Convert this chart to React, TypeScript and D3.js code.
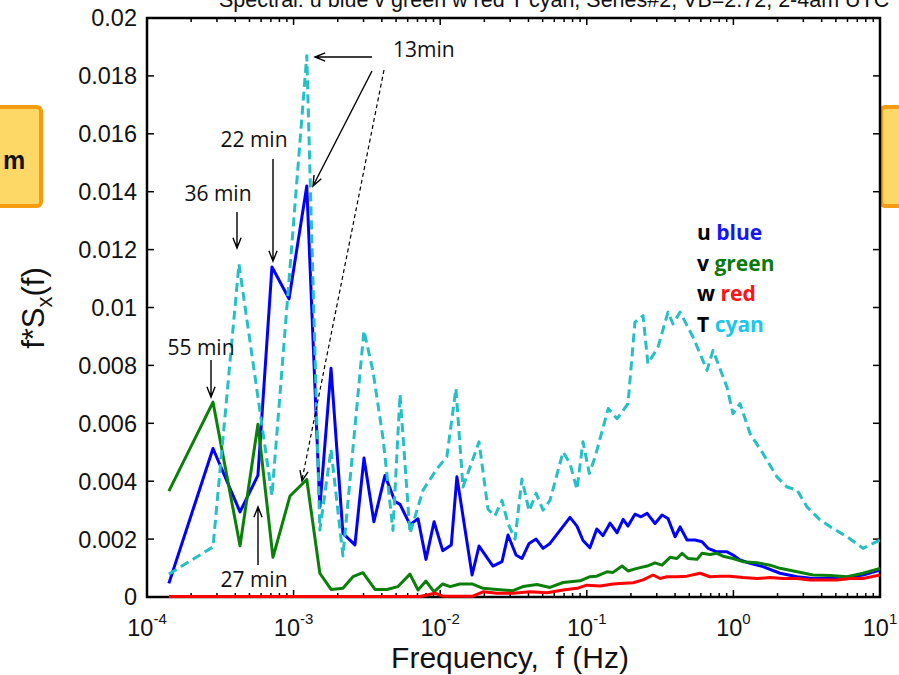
import React from 'react';
import * as d3 from 'd3';

const W = 899;
const H = 675;

// ---------- data ----------
const freqU = [1.41e-4, 2.82e-4, 4.31e-4, 5.71e-4, 7.12e-4, 9.31e-4, 1.23e-3, 1.51e-3, 1.80e-3, 2.17e-3, 2.62e-3, 3.02e-3, 3.53e-3, 4.20e-3, 4.92e-3, 5.32e-3, 6.22e-3, 7.06e-3, 8.00e-3, 9.08e-3, 1.04e-2, 1.19e-2, 1.30e-2, 1.65e-2, 1.84e-2, 2.29e-2, 2.64e-2, 2.90e-2, 3.29e-2, 3.61e-2, 4.04e-2, 4.51e-2, 5.03e-2, 5.61e-2, 7.68e-2, 8.57e-2, 9.42e-2, 0.105, 0.117, 0.129, 0.144, 0.161, 0.177, 0.191, 0.213, 0.234, 0.258, 0.292, 0.326, 0.358, 0.400, 0.433, 0.483, 0.547, 0.611, 0.671, 0.773, 0.904, 0.993, 1.11, 1.30, 1.59, 2.08, 2.72, 3.49, 4.56, 5.96, 7.66, 10];
const valU = [0.00047, 0.00513, 0.00294, 0.0042, 0.0114, 0.0103, 0.0142, 0.0031, 0.0079, 0.0022, 0.0018, 0.0048, 0.0026, 0.0042, 0.0033, 0.0032, 0.0025, 0.0027, 0.0013, 0.0026, 0.0016, 0.0018, 0.00415, 0.00076, 0.00176, 0.00107, 0.00122, 0.00214, 0.00145, 0.00133, 0.00185, 0.0020, 0.00168, 0.00185, 0.00275, 0.00245, 0.00195, 0.0017, 0.00235, 0.00212, 0.00255, 0.00222, 0.00268, 0.00245, 0.00286, 0.00277, 0.00289, 0.00254, 0.00283, 0.00271, 0.00208, 0.00242, 0.00197, 0.00197, 0.00191, 0.00168, 0.00156, 0.00156, 0.00145, 0.00128, 0.00116, 0.00105, 0.00082, 0.0007, 0.00064, 0.00064, 0.00068, 0.00076, 0.00093];

const freqV = [1.41e-4, 2.82e-4, 4.31e-4, 5.71e-4, 7.23e-4, 9.45e-4, 1.23e-3, 1.51e-3, 1.80e-3, 2.17e-3, 2.54e-3, 2.97e-3, 3.59e-3, 4.34e-3, 5.15e-3, 6.22e-3, 7.06e-3, 8.00e-3, 9.08e-3, 1.04e-2, 1.17e-2, 1.36e-2, 1.65e-2, 1.96e-2, 2.44e-2, 3.14e-2, 3.67e-2, 4.57e-2, 5.61e-2, 6.89e-2, 9.00e-2, 0.105, 0.117, 0.137, 0.151, 0.174, 0.191, 0.220, 0.258, 0.292, 0.326, 0.370, 0.412, 0.447, 0.490, 0.565, 0.611, 0.692, 0.773, 0.849, 0.993, 1.16, 1.45, 1.78, 2.08, 2.72, 3.49, 4.56, 5.96, 7.66, 10];
const valV = [0.00366, 0.00673, 0.00177, 0.00597, 0.00137, 0.00349, 0.00406, 0.00082, 0.00026, 0.0003, 0.0007, 0.00084, 0.00026, 0.00026, 0.00036, 0.00079, 0.00024, 0.00055, 0.00018, 0.00045, 0.00036, 0.00045, 0.00045, 0.0003, 0.00026, 0.00022, 0.00036, 0.00043, 0.00033, 0.0005, 0.00056, 0.0007, 0.00072, 0.00087, 0.00085, 0.00107, 0.0009, 0.00099, 0.00107, 0.00118, 0.0011, 0.00137, 0.00133, 0.00151, 0.00133, 0.0013, 0.00151, 0.00147, 0.00151, 0.00141, 0.00133, 0.00122, 0.00118, 0.0011, 0.00099, 0.00087, 0.00076, 0.00074, 0.0007, 0.00082, 0.00099];

const freqW = [1.41e-4, 1.11e-3, 7.28e-3, 9.22e-3, 1.04e-2, 1.67e-2, 1.96e-2, 2.44e-2, 3.14e-2, 4.10e-2, 5.36e-2, 6.89e-2, 8.57e-2, 0.100, 0.123, 0.151, 0.168, 0.207, 0.242, 0.283, 0.316, 0.352, 0.412, 0.483, 0.592, 0.692, 0.811, 0.948, 1.16, 1.45, 1.78, 2.18, 2.72, 3.33, 4.08, 5.09, 6.24, 7.66, 10];
const valW = [0.00002, 0.00002, 0.00002, 0.00013, 0.00003, 0.00003, 0.00018, 0.00013, 0.00013, 0.00018, 0.00015, 0.00024, 0.0003, 0.00041, 0.00038, 0.00045, 0.00047, 0.00049, 0.00059, 0.00076, 0.00064, 0.0007, 0.0007, 0.00072, 0.00082, 0.0007, 0.00072, 0.00072, 0.00067, 0.00064, 0.00067, 0.00064, 0.00064, 0.00059, 0.00059, 0.00059, 0.00064, 0.00064, 0.00076];

const freqT = [1.41e-4, 2.82e-4, 4.24e-4, 7.12e-4, 1.23e-3, 1.51e-3, 1.80e-3, 2.17e-3, 3.02e-3, 3.48e-3, 4.07e-3, 4.76e-3, 5.32e-3, 6.22e-3, 7.64e-3, 9.51e-3, 1.11e-2, 1.28e-2, 1.43e-2, 1.84e-2, 2.12e-2, 2.36e-2, 2.64e-2, 2.90e-2, 3.24e-2, 3.61e-2, 4.04e-2, 4.51e-2, 5.03e-2, 5.61e-2, 6.89e-2, 7.68e-2, 8.57e-2, 9.42e-2, 0.104, 0.114, 0.140, 0.161, 0.191, 0.213, 0.242, 0.261, 0.306, 0.358, 0.387, 0.433, 0.530, 0.661, 0.726, 0.904, 0.993, 1.11, 1.30, 1.59, 1.98, 2.32, 2.72, 3.18, 3.90, 4.78, 5.96, 7.66, 10];
const valT = [0.00079, 0.00173, 0.0115, 0.0035, 0.0187, 0.00231, 0.0051, 0.00142, 0.0092, 0.0078, 0.0055, 0.0023, 0.007, 0.0022, 0.00369, 0.00443, 0.00484, 0.0072, 0.0038, 0.00536, 0.00303, 0.0028, 0.00334, 0.00254, 0.002, 0.00408, 0.00297, 0.00358, 0.003, 0.00334, 0.00501, 0.00461, 0.00372, 0.00536, 0.00427, 0.00484, 0.00651, 0.00616, 0.00668, 0.00949, 0.00972, 0.00806, 0.00863, 0.00984, 0.00943, 0.00984, 0.00898, 0.00783, 0.00852, 0.00725, 0.00633, 0.00668, 0.00564, 0.00496, 0.00415, 0.0038, 0.00369, 0.00311, 0.00266, 0.00237, 0.00208, 0.00168, 0.00197];

const yTicks = [0, 0.002, 0.004, 0.006, 0.008, 0.01, 0.012, 0.014, 0.016, 0.018, 0.02];
const yTickLabels = ['0', '0.002', '0.004', '0.006', '0.008', '0.01', '0.012', '0.014', '0.016', '0.018', '0.02'];
const xExponents = [-4, -3, -2, -1, 0, 1];

const legendVars = ['u', 'v', 'w', 'T'];
const legendNames = ['blue', 'green', 'red', 'cyan'];
const legendColors = ['#1414ff', '#0b7a0b', '#ff1414', '#1cc6ef'];

const titleText = 'Spectral: u blue v green w red T cyan, Series#2, VB=2.72, 2-4am UTC';

// ---------- helpers ----------
function arrowPath(x1: number, y1: number, x2: number, y2: number, size = 11, spread = 0.38) {
  const a = Math.atan2(y2 - y1, x2 - x1);
  const hx1 = x2 - size * Math.cos(a - spread);
  const hy1 = y2 - size * Math.sin(a - spread);
  const hx2 = x2 - size * Math.cos(a + spread);
  const hy2 = y2 - size * Math.sin(a + spread);
  return `M${x1},${y1}L${x2},${y2}M${hx1},${hy1}L${x2},${y2}L${hx2},${hy2}`;
}

export default function App() {
  const x = d3.scaleLog().domain([1e-4, 10]).range([147, 880]);
  const y = d3.scaleLinear().domain([0, 0.02]).range([597, 18]);
  const [x0, x1] = x.range();
  const [yb, yt] = y.range();

  const line = d3
    .line<[number, number]>()
    .x((d) => x(d[0]))
    .y((d) => y(d[1]));

  const series = [
    { f: freqU, v: valU, color: '#0000ff', dash: undefined },
    { f: freqV, v: valV, color: '#0a800a', dash: undefined },
    { f: freqW, v: valW, color: '#ff0000', dash: undefined },
    { f: freqT, v: valT, color: '#26c0c4', dash: '9,5' },
  ];

  const minor: number[] = [];
  for (let e = -4; e < 1; e++) {
    for (let k = 2; k <= 9; k++) minor.push(k * Math.pow(10, e));
  }
  const major = xExponents.map((e) => Math.pow(10, e));

  const tickFont = "'Liberation Sans', Arial, Helvetica, sans-serif";
  const annFont = "'Open Sans', 'Noto Sans', sans-serif";

  return (
    <svg width={W} height={H} style={{ position: 'absolute', left: 0, top: 0, background: '#fff' }}>
      <rect x={0} y={0} width={W} height={H} fill="#fff" />
      {/* title, clipped by the top edge as in the reference */}
      <text x={219} y={7} fontFamily={tickFont} fontSize={21.5} fill="#111">
        {titleText}
      </text>

      {/* orange boxes at the sides */}
      <rect x={-12} y={107} width={53} height={99} rx={4} fill="#fdd866" stroke="#f59c12" strokeWidth={4} />
      <text x={3} y={169} fontFamily={tickFont} fontWeight="bold" fontSize={25} fill="#111">m</text>
      <rect x={881} y={107} width={40} height={99} rx={4} fill="#fdd866" stroke="#f59c12" strokeWidth={4} />

      {/* ticks */}
      <g stroke="#000" strokeWidth={1.5}>
        {major.map((f, i) => (
          <g key={'M' + i}>
            <line x1={x(f)} x2={x(f)} y1={yb} y2={yb - 7} />
            <line x1={x(f)} x2={x(f)} y1={yt} y2={yt + 7} />
          </g>
        ))}
        {minor.map((f, i) => (
          <g key={'m' + i}>
            <line x1={x(f)} x2={x(f)} y1={yb} y2={yb - 4} />
            <line x1={x(f)} x2={x(f)} y1={yt} y2={yt + 4} />
          </g>
        ))}
        {yTicks.map((t, i) => (
          <g key={'y' + i}>
            <line x1={x0} x2={x0 + 7} y1={y(t)} y2={y(t)} />
            <line x1={x1} x2={x1 - 7} y1={y(t)} y2={y(t)} />
          </g>
        ))}
      </g>

      {/* frame */}
      <rect x={x0} y={yt} width={x1 - x0} height={yb - yt} fill="none" stroke="#000" strokeWidth={2.5} />

      {/* y tick labels */}
      {yTicks.map((t, i) => (
        <text key={'yl' + i} x={x0 - 10} y={y(t)} dy="0.36em" textAnchor="end" fontFamily={tickFont} fontSize={23.5} fill="#111">
          {yTickLabels[i]}
        </text>
      ))}
      {/* x tick labels */}
      {xExponents.map((e, i) => (
        <text key={'xl' + i} x={x(major[i])} y={636} textAnchor="middle" fontFamily={tickFont} fontSize={23.5} fill="#111">
          10
          <tspan fontSize={15} dy={-12}>{String(e)}</tspan>
        </text>
      ))}

      {/* axis titles */}
      <text x={510} y={668} textAnchor="middle" fontFamily={tickFont} fontSize={30} fill="#111" style={{ whiteSpace: 'pre' }}>
        {'Frequency,  f (Hz)'}
      </text>
      <text transform="translate(44,308) rotate(-90)" textAnchor="middle" fontFamily={tickFont} fontSize={31} fill="#111">
        f*S<tspan fontSize={22} dy={8}>x</tspan><tspan dy={-8}>(f)</tspan>
      </text>

      {/* data lines */}
      {series.map((s, i) => (
        <path
          key={'s' + i}
          d={line(s.f.map((f, j) => [f, s.v[j]] as [number, number])) || ''}
          fill="none"
          stroke={s.color}
          strokeWidth={3}
          strokeDasharray={s.dash}
          strokeLinejoin="round"
        />
      ))}

      {/* annotations */}
      <g fill="none" stroke="#000" strokeWidth={1.4}>
        <path d={arrowPath(211, 360, 211, 397)} />
        <path d={arrowPath(237, 212, 237, 248)} />
        <path d={arrowPath(273, 159, 273, 261)} />
        <path d={arrowPath(258, 565, 258, 507)} />
        <path d={arrowPath(372, 57, 315, 57)} />
        <path d={arrowPath(372, 71, 313, 186)} />
        <path d="M384,70L302,480" strokeDasharray="4,3" strokeWidth={1.2} />
        <path d={arrowPath(384, 70, 302, 481, 11, 0.38).replace(/^M[^M]*/, '')} />
      </g>
      <g fontFamily={annFont} fontSize={21} fill="#111">
        <text x={201} y={355} textAnchor="middle">55 min</text>
        <text x={218} y={201} textAnchor="middle">36 min</text>
        <text x={254} y={147} textAnchor="middle">22 min</text>
        <text x={393} y={57}>13min</text>
        <text x={254} y={587} textAnchor="middle">27 min</text>
      </g>

      {/* legend text */}
      <g fontFamily={annFont} fontSize={21} fontWeight="bold">
        {legendVars.map((v, i) => (
          <text key={'lg' + i} x={697} y={240 + i * 30.5} fill="#000">
            {v} <tspan fill={legendColors[i]}>{legendNames[i]}</tspan>
          </text>
        ))}
      </g>
    </svg>
  );
}
